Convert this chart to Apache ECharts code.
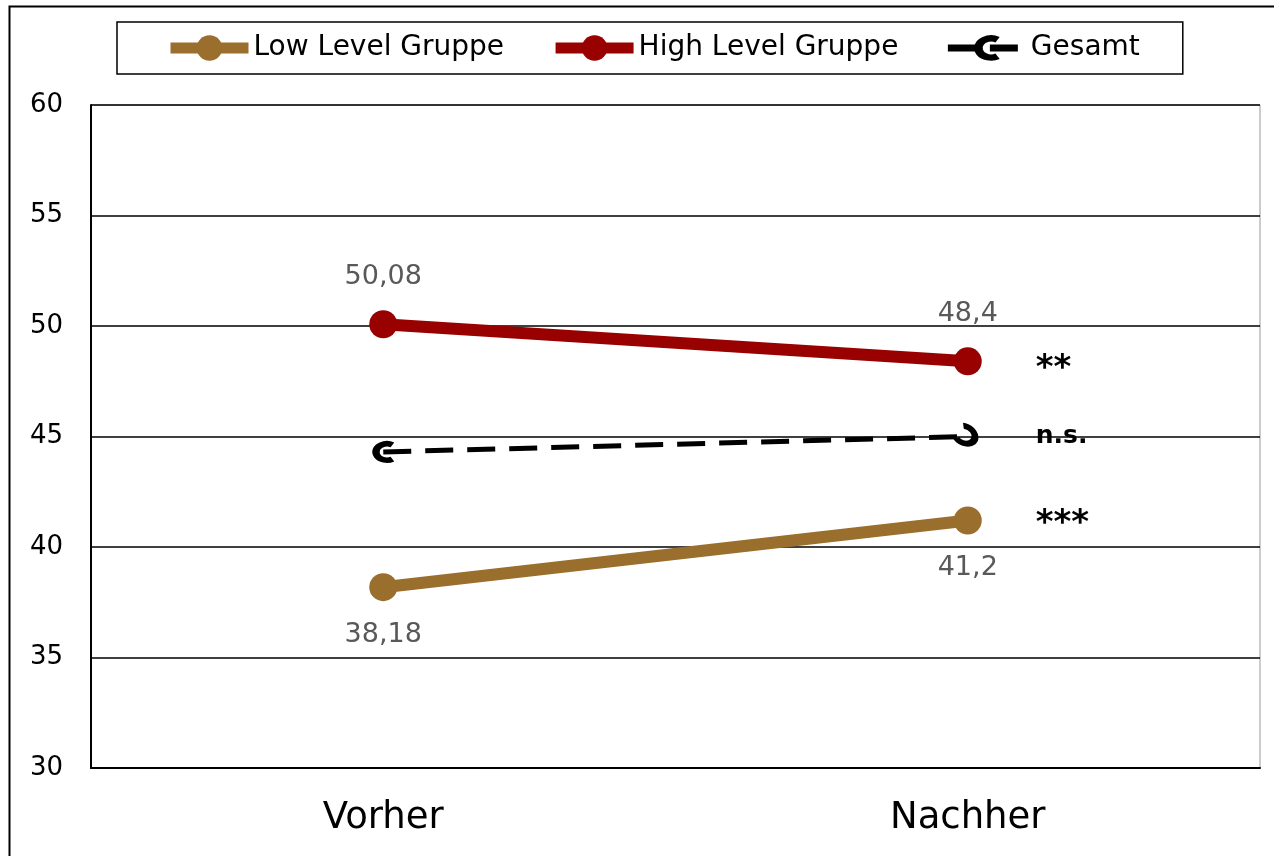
<!DOCTYPE html>
<html>
<head>
<meta charset="utf-8">
<script src="https://cdn.jsdelivr.net/npm/echarts@6/dist/echarts.min.js"></script>
<style>
  html, body { margin: 0; padding: 0; background: #fff; }
  #chart { width: 1274px; height: 856px; }
</style>
</head>
<body>
<div id="chart"></div>
<script>
// Daten
const categories = ["Vorher", "Nachher"];
const lowValues = [38.18, 41.2];
const highValues = [50.08, 48.4];
const totalValues = [44.3, 45.0];
const yTicks = { min: 30, max: 60, interval: 5 };
const signif = { low: "***", high: "**", total: "n.s." };

// Haken-Symbol für "Gesamt"
const hook = "path://M75 93.3A50 50 0 1 1 75 6.7L62.5 28.3A25 25 0 1 0 62.5 71.7Z";

const fmt = (p) => String(p.value).replace(".", ",");

let myChart = echarts.init(document.getElementById("chart"));

let option = {
  backgroundColor: "#fff",
  textStyle: { fontFamily: "DejaVu Sans, sans-serif" },
  graphic: [
    {
      type: "rect",
      silent: true,
      shape: { x: 9.5, y: 6.5, width: 1400, height: 1000 },
      style: { fill: "none", stroke: "#000", lineWidth: 2 }
    }
  ],
  legend: {
    left: 117,
    top: 22,
    padding: [12, 43, 12, 48],
    itemGap: 46,
    itemWidth: 78,
    itemHeight: 32,
    borderColor: "#000",
    borderWidth: 1.5,
    backgroundColor: "#fff",
    textStyle: { color: "#000", fontSize: 28 },
    data: [
      { name: "Low Level Gruppe", lineStyle: { width: 11 } },
      { name: "High Level Gruppe", lineStyle: { width: 11 } },
      { name: "Gesamt", lineStyle: { width: 7 } }
    ]
  },
  grid: {
    left: 91,
    right: 14,
    top: 105,
    bottom: 88,
    show: true,
    borderColor: "#999",
    borderWidth: 1
  },
  xAxis: {
    type: "category",
    data: categories,
    boundaryGap: true,
    axisLine: { show: true, lineStyle: { color: "#000", width: 2 } },
    axisTick: { show: false },
    axisLabel: { color: "#000", fontSize: 37, margin: 32 }
  },
  yAxis: {
    type: "value",
    min: yTicks.min,
    max: yTicks.max,
    interval: yTicks.interval,
    axisLine: { show: true, lineStyle: { color: "#000", width: 2 } },
    axisTick: { show: false },
    axisLabel: { color: "#000", fontSize: 26, margin: 28 },
    splitLine: { lineStyle: { color: "#000", width: 1.5 } }
  },
  series: [
    {
      name: "Low Level Gruppe",
      type: "line",
      data: lowValues,
      symbol: "circle",
      symbolSize: 28,
      z: 3,
      itemStyle: { color: "#9a6e2d" },
      lineStyle: { color: "#9a6e2d", width: 12 },
      label: {
        show: true,
        position: "bottom",
        distance: 20,
        color: "#595959",
        fontSize: 27,
        formatter: fmt
      },
      endLabel: {
        show: true,
        formatter: signif.low,
        distance: 68,
        offset: [0, 4],
        color: "#000",
        fontSize: 34,
        fontWeight: "bold"
      }
    },
    {
      name: "High Level Gruppe",
      type: "line",
      data: highValues,
      symbol: "circle",
      symbolSize: 28,
      z: 3,
      itemStyle: { color: "#990000" },
      lineStyle: { color: "#990000", width: 12 },
      label: {
        show: true,
        position: "top",
        distance: 20,
        color: "#595959",
        fontSize: 27,
        formatter: fmt
      },
      endLabel: {
        show: true,
        formatter: signif.high,
        distance: 68,
        offset: [0, 8],
        color: "#000",
        fontSize: 34,
        fontWeight: "bold"
      }
    },
    {
      name: "Gesamt",
      type: "line",
      data: [
        { value: totalValues[0], symbolRotate: 0 },
        { value: totalValues[1], symbolRotate: 150 }
      ],
      symbol: hook,
      symbolSize: 22,
      z: 2,
      itemStyle: { color: "#000" },
      lineStyle: { color: "#000", width: 5, type: [28, 14] },
      endLabel: {
        show: true,
        formatter: signif.total,
        distance: 68,
        color: "#000",
        fontSize: 25,
        fontWeight: "bold"
      }
    }
  ]
};

myChart.setOption(option);
</script>
</body>
</html>
